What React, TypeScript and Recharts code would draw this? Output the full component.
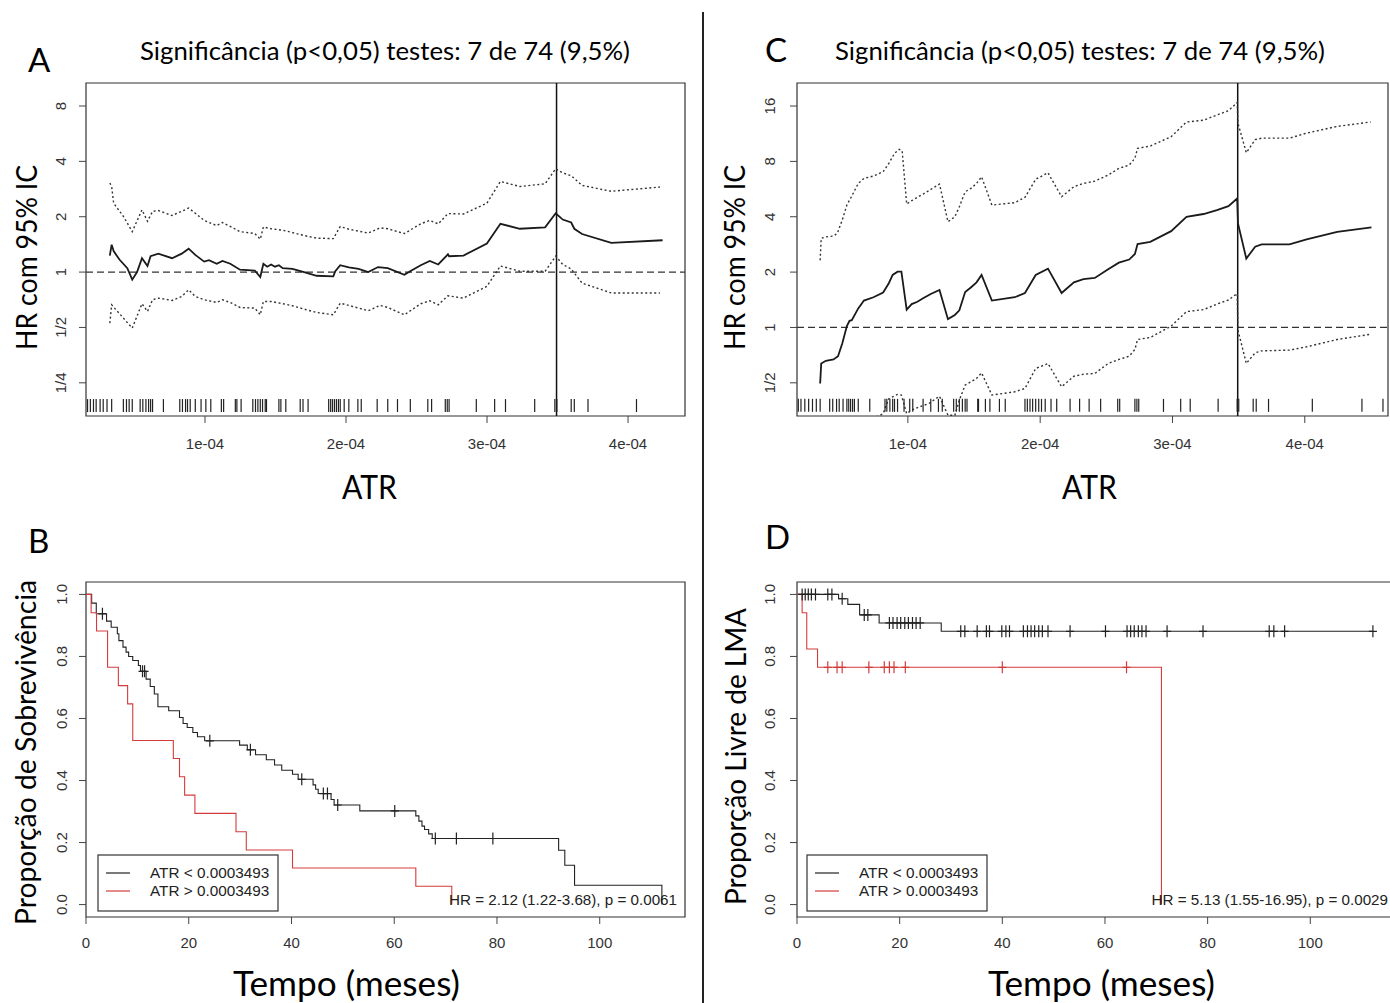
import React from "react";
import {
  ComposedChart,
  Line,
  Scatter,
  XAxis,
  YAxis,
  ReferenceLine,
  ReferenceArea
} from "recharts";

const TICK_FONT = "'Liberation Sans', Arial, Helvetica, sans-serif";
const LABEL_FONT = "Lato, 'Open Sans', sans-serif";

const THRESHOLD = 3.493e-4;

// ---------- A: HR by ATR cut-off (overall survival)
const estA_atr = [0.325e-4, 0.338e-4, 0.352e-4, 0.393e-4, 0.449e-4, 0.484e-4, 0.518e-4, 0.553e-4, 0.592e-4, 0.614e-4, 0.669e-4, 0.766e-4, 0.835e-4, 0.884e-4, 0.931e-4, 0.994e-4, 1.028e-4, 1.083e-4, 1.124e-4, 1.179e-4, 1.248e-4, 1.353e-4, 1.392e-4, 1.414e-4, 1.441e-4, 1.469e-4, 1.496e-4, 1.524e-4, 1.551e-4, 1.62e-4, 1.703e-4, 1.791e-4, 1.91e-4, 1.924e-4, 1.959e-4, 2.02e-4, 2.089e-4, 2.158e-4, 2.227e-4, 2.296e-4, 2.414e-4, 2.461e-4, 2.53e-4, 2.594e-4, 2.654e-4, 2.723e-4, 2.731e-4, 2.833e-4, 2.999e-4, 3.095e-4, 3.233e-4, 3.412e-4, 3.487e-4, 3.537e-4, 3.597e-4, 3.619e-4, 3.674e-4, 3.881e-4, 4.245e-4];
const estA_hr = [1.23, 1.41, 1.3, 1.17, 1.05, 0.91, 1.0, 1.19, 1.08, 1.22, 1.26, 1.19, 1.26, 1.34, 1.24, 1.14, 1.16, 1.11, 1.15, 1.11, 1.03, 1.02, 0.94, 1.11, 1.07, 1.1, 1.07, 1.09, 1.05, 1.04, 1.0, 0.955, 0.947, 1.01, 1.09, 1.06, 1.04, 1.0, 1.065, 1.05, 0.967, 1.017, 1.09, 1.15, 1.1, 1.25, 1.22, 1.23, 1.43, 1.83, 1.72, 1.75, 2.09, 1.93, 1.86, 1.72, 1.61, 1.44, 1.49];

const upA_atr = [0.325e-4, 0.338e-4, 0.352e-4, 0.421e-4, 0.484e-4, 0.553e-4, 0.592e-4, 0.628e-4, 0.669e-4, 0.766e-4, 0.835e-4, 0.884e-4, 0.931e-4, 0.994e-4, 1.083e-4, 1.124e-4, 1.179e-4, 1.248e-4, 1.353e-4, 1.392e-4, 1.414e-4, 1.469e-4, 1.551e-4, 1.62e-4, 1.703e-4, 1.791e-4, 1.91e-4, 1.959e-4, 2.02e-4, 2.158e-4, 2.241e-4, 2.296e-4, 2.414e-4, 2.53e-4, 2.594e-4, 2.654e-4, 2.723e-4, 2.833e-4, 2.999e-4, 3.095e-4, 3.233e-4, 3.412e-4, 3.487e-4, 3.537e-4, 3.597e-4, 3.674e-4, 3.881e-4, 4.226e-4];
const upA_hr = [3.05, 2.92, 2.37, 2.01, 1.66, 2.18, 1.89, 2.14, 2.16, 2.03, 2.14, 2.23, 2.09, 1.91, 1.79, 1.86, 1.77, 1.66, 1.62, 1.51, 1.76, 1.72, 1.69, 1.64, 1.58, 1.53, 1.52, 1.77, 1.71, 1.63, 1.74, 1.72, 1.62, 1.83, 1.91, 1.83, 2.08, 2.07, 2.37, 3.11, 2.92, 3.02, 3.65, 3.46, 3.34, 2.96, 2.75, 2.9];

const loA_atr = [0.325e-4, 0.338e-4, 0.484e-4, 0.553e-4, 0.592e-4, 0.628e-4, 0.669e-4, 0.766e-4, 0.835e-4, 0.884e-4, 0.931e-4, 0.994e-4, 1.083e-4, 1.124e-4, 1.179e-4, 1.248e-4, 1.353e-4, 1.392e-4, 1.414e-4, 1.469e-4, 1.551e-4, 1.62e-4, 1.703e-4, 1.791e-4, 1.91e-4, 1.959e-4, 2.02e-4, 2.158e-4, 2.241e-4, 2.296e-4, 2.414e-4, 2.53e-4, 2.594e-4, 2.654e-4, 2.723e-4, 2.833e-4, 2.999e-4, 3.095e-4, 3.233e-4, 3.412e-4, 3.487e-4, 3.537e-4, 3.597e-4, 3.674e-4, 3.881e-4, 4.226e-4];
const loA_hr = [0.528, 0.664, 0.496, 0.673, 0.611, 0.707, 0.722, 0.701, 0.737, 0.801, 0.737, 0.707, 0.684, 0.707, 0.684, 0.642, 0.637, 0.586, 0.692, 0.692, 0.673, 0.656, 0.629, 0.603, 0.586, 0.678, 0.659, 0.616, 0.659, 0.642, 0.586, 0.673, 0.698, 0.664, 0.743, 0.722, 0.836, 1.08, 1.01, 1.01, 1.22, 1.1, 1.04, 0.871, 0.77, 0.77];

const rugA = [0.167e-4, 0.187e-4, 0.209e-4, 0.228e-4, 0.256e-4, 0.278e-4, 0.305e-4, 0.338e-4, 0.421e-4, 0.443e-4, 0.462e-4, 0.484e-4, 0.54e-4, 0.559e-4, 0.581e-4, 0.6e-4, 0.614e-4, 0.628e-4, 0.705e-4, 0.821e-4, 0.84e-4, 0.862e-4, 0.876e-4, 0.895e-4, 0.931e-4, 0.972e-4, 1.006e-4, 1.041e-4, 1.116e-4, 1.132e-4, 1.215e-4, 1.226e-4, 1.256e-4, 1.339e-4, 1.358e-4, 1.375e-4, 1.392e-4, 1.408e-4, 1.427e-4, 1.436e-4, 1.524e-4, 1.538e-4, 1.573e-4, 1.675e-4, 1.695e-4, 1.731e-4, 1.877e-4, 1.891e-4, 1.904e-4, 1.918e-4, 1.932e-4, 1.946e-4, 1.959e-4, 1.987e-4, 2.02e-4, 2.084e-4, 2.108e-4, 2.221e-4, 2.296e-4, 2.365e-4, 2.456e-4, 2.58e-4, 2.607e-4, 2.704e-4, 2.718e-4, 2.731e-4, 2.924e-4, 3.054e-4, 3.131e-4, 3.338e-4, 3.481e-4, 3.495e-4, 3.597e-4, 3.619e-4, 3.716e-4, 4.06e-4];

// ---------- C: HR by ATR cut-off (LMA-free)
const estC_atr = [0.337e-4, 0.345e-4, 0.38e-4, 0.438e-4, 0.472e-4, 0.504e-4, 0.539e-4, 0.559e-4, 0.576e-4, 0.625e-4, 0.668e-4, 0.74e-4, 0.813e-4, 0.856e-4, 0.885e-4, 0.922e-4, 0.951e-4, 0.991e-4, 1.029e-4, 1.072e-4, 1.115e-4, 1.173e-4, 1.239e-4, 1.303e-4, 1.355e-4, 1.389e-4, 1.433e-4, 1.476e-4, 1.519e-4, 1.557e-4, 1.635e-4, 1.808e-4, 1.885e-4, 1.966e-4, 2.059e-4, 2.162e-4, 2.255e-4, 2.327e-4, 2.413e-4, 2.514e-4, 2.595e-4, 2.673e-4, 2.716e-4, 2.736e-4, 2.832e-4, 2.99e-4, 3.106e-4, 3.235e-4, 3.336e-4, 3.423e-4, 3.489e-4, 3.495e-4, 3.558e-4, 3.625e-4, 3.674e-4, 3.884e-4, 4.014e-4, 4.245e-4, 4.504e-4];
const estC_hr = [0.496, 0.637, 0.659, 0.67, 0.698, 0.818, 1.017, 1.087, 1.096, 1.27, 1.4, 1.46, 1.55, 1.74, 1.93, 2.01, 2.01, 1.25, 1.34, 1.38, 1.44, 1.52, 1.6, 1.11, 1.17, 1.24, 1.56, 1.65, 1.76, 1.93, 1.4, 1.46, 1.54, 1.93, 2.09, 1.54, 1.76, 1.83, 1.86, 2.07, 2.25, 2.34, 2.51, 2.84, 2.92, 3.34, 4.0, 4.14, 4.35, 4.57, 5.03, 3.68, 2.37, 2.75, 2.83, 2.83, 3.01, 3.31, 3.5];

const upC_atr = [0.337e-4, 0.345e-4, 0.38e-4, 0.438e-4, 0.467e-4, 0.504e-4, 0.539e-4, 0.576e-4, 0.625e-4, 0.668e-4, 0.74e-4, 0.813e-4, 0.856e-4, 0.899e-4, 0.934e-4, 0.957e-4, 0.991e-4, 1.029e-4, 1.115e-4, 1.173e-4, 1.239e-4, 1.303e-4, 1.355e-4, 1.389e-4, 1.433e-4, 1.476e-4, 1.519e-4, 1.557e-4, 1.635e-4, 1.808e-4, 1.885e-4, 1.966e-4, 2.059e-4, 2.162e-4, 2.255e-4, 2.327e-4, 2.413e-4, 2.514e-4, 2.595e-4, 2.673e-4, 2.716e-4, 2.736e-4, 2.832e-4, 2.99e-4, 3.106e-4, 3.235e-4, 3.336e-4, 3.423e-4, 3.489e-4, 3.495e-4, 3.558e-4, 3.625e-4, 3.674e-4, 3.884e-4, 4.014e-4, 4.245e-4, 4.498e-4];
const upC_hr = [2.32, 3.05, 3.11, 3.14, 3.25, 3.84, 4.63, 5.18, 6.07, 6.47, 6.66, 7.03, 7.8, 8.84, 9.3, 9.14, 4.69, 4.89, 5.31, 5.63, 6.02, 3.76, 4.0, 4.53, 5.47, 5.7, 6.07, 6.6, 4.63, 4.77, 5.1, 6.39, 6.94, 5.14, 5.83, 6.07, 6.25, 6.74, 7.33, 7.64, 8.31, 9.42, 9.69, 10.9, 13.1, 13.4, 14.3, 15.1, 16.7, 12.9, 8.92, 10.5, 10.7, 10.7, 11.4, 12.4, 13.1];

const loC_atr = [0.337e-4, 0.345e-4, 0.438e-4, 0.504e-4, 0.576e-4, 0.668e-4, 0.813e-4, 0.856e-4, 0.922e-4, 0.951e-4, 0.991e-4, 1.029e-4, 1.087e-4, 1.159e-4, 1.239e-4, 1.303e-4, 1.355e-4, 1.389e-4, 1.433e-4, 1.476e-4, 1.519e-4, 1.557e-4, 1.635e-4, 1.808e-4, 1.885e-4, 1.966e-4, 2.059e-4, 2.162e-4, 2.255e-4, 2.327e-4, 2.413e-4, 2.514e-4, 2.595e-4, 2.673e-4, 2.716e-4, 2.736e-4, 2.832e-4, 2.99e-4, 3.106e-4, 3.235e-4, 3.336e-4, 3.423e-4, 3.489e-4, 3.495e-4, 3.558e-4, 3.625e-4, 3.674e-4, 3.884e-4, 4.014e-4, 4.245e-4, 4.504e-4];
const loC_hr = [0.106, 0.133, 0.143, 0.175, 0.233, 0.3, 0.34, 0.41, 0.432, 0.429, 0.34, 0.355, 0.37, 0.386, 0.423, 0.333, 0.333, 0.402, 0.486, 0.506, 0.528, 0.566, 0.429, 0.447, 0.466, 0.598, 0.637, 0.476, 0.543, 0.557, 0.562, 0.637, 0.67, 0.698, 0.759, 0.86, 0.882, 1.017, 1.22, 1.25, 1.34, 1.41, 1.53, 0.967, 0.637, 0.728, 0.746, 0.753, 0.785, 0.86, 0.92];

const rugC = [0.172e-4, 0.192e-4, 0.221e-4, 0.25e-4, 0.279e-4, 0.308e-4, 0.337e-4, 0.409e-4, 0.432e-4, 0.461e-4, 0.481e-4, 0.51e-4, 0.539e-4, 0.553e-4, 0.567e-4, 0.582e-4, 0.596e-4, 0.625e-4, 0.712e-4, 0.827e-4, 0.841e-4, 0.864e-4, 0.885e-4, 0.899e-4, 0.922e-4, 0.971e-4, 1.014e-4, 1.037e-4, 1.115e-4, 1.173e-4, 1.231e-4, 1.26e-4, 1.346e-4, 1.366e-4, 1.389e-4, 1.412e-4, 1.433e-4, 1.447e-4, 1.528e-4, 1.534e-4, 1.586e-4, 1.62e-4, 1.692e-4, 1.736e-4, 1.885e-4, 1.903e-4, 1.923e-4, 1.943e-4, 1.966e-4, 1.989e-4, 2.01e-4, 2.038e-4, 2.082e-4, 2.125e-4, 2.226e-4, 2.298e-4, 2.37e-4, 2.457e-4, 2.586e-4, 2.601e-4, 2.716e-4, 2.731e-4, 2.745e-4, 2.932e-4, 3.062e-4, 3.134e-4, 3.345e-4, 3.489e-4, 3.501e-4, 3.61e-4, 3.633e-4, 3.726e-4, 4.057e-4, 4.432e-4, 4.591e-4];

// ---------- B: overall survival (months)
const osLow_t = [0, 1.1, 2.0, 4.0, 4.9, 6.1, 6.4, 7.2, 7.8, 8.3, 9.1, 10.2, 10.6, 11.7, 12.5, 13.3, 14.0, 16.1, 18.2, 18.9, 19.7, 20.8, 21.7, 23.1, 29.9, 31.4, 33.0, 35.1, 36.7, 38.1, 40.2, 41.3, 44.2, 44.7, 45.2, 47.7, 48.3, 53.3, 64.2, 64.8, 65.4, 65.9, 66.7, 67.4, 92.0, 93.2, 95.1, 112.1];
const osLow_s = [1, 0.972, 0.9375, 0.914, 0.894, 0.873, 0.851, 0.83, 0.814, 0.8, 0.787, 0.771, 0.752, 0.727, 0.703, 0.679, 0.638, 0.625, 0.603, 0.584, 0.571, 0.555, 0.541, 0.528, 0.514, 0.499, 0.483, 0.467, 0.45, 0.433, 0.42, 0.404, 0.386, 0.372, 0.358, 0.339, 0.321, 0.302, 0.286, 0.269, 0.253, 0.242, 0.228, 0.213, 0.175, 0.127, 0.0625, 0];
const osLow_cens = [3.2, 11.0, 11.4, 24.1, 32.0, 42.0, 46.2, 47.0, 49.0, 60.1, 68.0, 72.1, 79.2];

const osHigh_t = [0, 1.0, 2.05, 4.2, 6.3, 8.1, 9.1, 17.0, 18.2, 19.2, 21.2, 29.2, 31.2, 40.2, 64.2, 71.2];
const osHigh_s = [1, 0.941, 0.882, 0.765, 0.706, 0.647, 0.529, 0.471, 0.412, 0.353, 0.294, 0.235, 0.176, 0.118, 0.059, 0];
const osHigh_cens: number[] = [];

// ---------- D: LMA-free proportion (months)
const lmaLow_t = [0, 8.1, 9.9, 12.2, 16.0, 28.1, 112.2];
const lmaLow_s = [1, 0.986, 0.968, 0.934, 0.908, 0.881, 0.881];
const lmaLow_cens = [1.0, 1.6, 2.2, 2.8, 3.6, 6.0, 6.8, 8.8, 13.1, 13.8, 18.0, 18.7, 19.5, 20.2, 21.0, 21.7, 22.5, 23.2, 24.0, 31.9, 32.7, 35.1, 36.9, 37.5, 39.9, 40.7, 41.4, 44.1, 44.9, 45.6, 46.3, 47.1, 47.8, 48.9, 53.2, 60.1, 64.3, 65.0, 65.7, 66.5, 67.2, 68.0, 72.1, 79.1, 92.0, 92.9, 95.0, 112.2];

const lmaHigh_t = [0, 1.0, 1.9, 4.0, 71.0];
const lmaHigh_s = [1, 0.941, 0.824, 0.765, 0];
const lmaHigh_cens = [6.0, 7.8, 8.8, 14.0, 17.0, 18.0, 18.9, 21.1, 40.0, 64.2];

const hrTicksA = [0.25, 0.5, 1, 2, 4, 8];
const hrTicksC = [0.5, 1, 2, 4, 8, 16];
const atrTicks = [1e-4, 2e-4, 3e-4, 4e-4];
const survTicks = [0, 0.2, 0.4, 0.6, 0.8, 1];
const monthTicks = [0, 20, 40, 60, 80, 100];

const legendLabels = ["ATR < 0.0003493", "ATR > 0.0003493"];

const zip = (xs: number[], ys: number[]) => xs.map((x, i) => ({ x, y: ys[i] }));

// survival level at a censoring time
const survAt = (ts: number[], ss: number[], t: number) => {
  let s = ss[0];
  for (let i = 0; i < ts.length; i++) if (ts[i] <= t) s = ss[i];
  return s;
};

const fracLabel = (v: number) => (v === 0.25 ? "1/4" : v === 0.5 ? "1/2" : String(v));
const sciLabel = (v: number) => `${Math.round(v * 1e4)}e-04`;
const decLabel = (v: number) => v.toFixed(1);

const RugMark = (p: any) => (
  <line x1={p.cx} x2={p.cx} y1={p.cy - 6.5} y2={p.cy + 6.5} stroke="#222" strokeWidth={1.2} />
);

const censorShape = (color: string) => (p: any) => (
  <path
    d={`M${p.cx - 4},${p.cy}H${p.cx + 4}M${p.cx},${p.cy - 6}V${p.cy + 6}`}
    stroke={color}
    strokeWidth={1.2}
    fill="none"
  />
);

const xTick = (fmt: (v: number) => string, dy: number) => (p: any) => (
  <text x={p.x} y={p.y + dy} textAnchor="middle" fontFamily={TICK_FONT} fontSize={15} fill="#333">
    {fmt(p.payload.value)}
  </text>
);

const yTick = (fmt: (v: number) => string, dx: number) => (p: any) => (
  <text
    transform={`translate(${p.x - dx},${p.y}) rotate(-90)`}
    textAnchor="middle"
    fontFamily={TICK_FONT}
    fontSize={15}
    fill="#333"
  >
    {fmt(p.payload.value)}
  </text>
);

interface HRProps {
  left: number;
  width: number;
  yAxisWidth: number;
  right: number;
  xDomain: [number, number];
  yDomain: [number, number];
  yTicks: number[];
  est: { x: number; y: number }[];
  up: { x: number; y: number }[];
  lo: { x: number; y: number }[];
  rug: number[];
  rugLevel: number;
  yDx: number;
}

function HRPanel(p: HRProps) {
  const rugData = p.rug.map((x) => ({ x, y: p.rugLevel }));
  return (
    <div style={{ position: "absolute", left: p.left, top: 0 }}>
      <ComposedChart width={p.width} height={460} margin={{ top: 83, right: p.right, bottom: 0, left: 0 }}>
        <XAxis
          type="number"
          dataKey="x"
          domain={p.xDomain}
          allowDataOverflow
          ticks={atrTicks}
          axisLine={false}
          tickSize={7}
          tickMargin={0}
          tickLine={{ stroke: "#444" }}
          tick={xTick(sciLabel, 26)}
          height={44}
        />
        <YAxis
          type="number"
          dataKey="y"
          scale="log"
          domain={p.yDomain}
          allowDataOverflow
          ticks={p.yTicks}
          axisLine={false}
          tickSize={7}
          tickMargin={0}
          tickLine={{ stroke: "#444" }}
          tick={yTick(fracLabel, p.yDx)}
          width={p.yAxisWidth}
        />
        <ReferenceArea
          x1={p.xDomain[0]}
          x2={p.xDomain[1]}
          y1={p.yDomain[0]}
          y2={p.yDomain[1]}
          fill="none"
          stroke="#333"
          strokeWidth={1.2}
          ifOverflow="visible"
        />
        <ReferenceLine y={1} stroke="#333" strokeWidth={1.3} strokeDasharray="7 4" />
        <ReferenceLine x={THRESHOLD} stroke="#111" strokeWidth={1.5} />
        <Line data={p.up} dataKey="y" type="linear" stroke="#333" strokeWidth={1.4} strokeDasharray="2 2.5" dot={false} activeDot={false} isAnimationActive={false} />
        <Line data={p.lo} dataKey="y" type="linear" stroke="#333" strokeWidth={1.4} strokeDasharray="2 2.5" dot={false} activeDot={false} isAnimationActive={false} />
        <Line data={p.est} dataKey="y" type="linear" stroke="#1a1a1a" strokeWidth={1.8} dot={false} activeDot={false} isAnimationActive={false} />
        <Scatter data={rugData} dataKey="y" shape={RugMark} isAnimationActive={false} />
      </ComposedChart>
    </div>
  );
}

interface KMProps {
  left: number;
  width: number;
  yAxisWidth: number;
  right: number;
  xDomain: [number, number];
  lowT: number[];
  lowS: number[];
  lowC: number[];
  highT: number[];
  highS: number[];
  highC: number[];
  yDx: number;
}

const RED = "#d43c3c";
const DARK = "#222";

function KMPanel(p: KMProps) {
  const yDomain: [number, number] = [-0.04, 1.04];
  const lowCens = p.lowC.map((t) => ({ x: t, y: survAt(p.lowT, p.lowS, t) }));
  const highCens = p.highC.map((t) => ({ x: t, y: survAt(p.highT, p.highS, t) }));
  return (
    <div style={{ position: "absolute", left: p.left, top: 500 }}>
      <ComposedChart width={p.width} height={460} margin={{ top: 82, right: p.right, bottom: 0, left: 0 }}>
        <XAxis
          type="number"
          dataKey="x"
          domain={p.xDomain}
          allowDataOverflow
          ticks={monthTicks}
          axisLine={false}
          tickSize={7}
          tickMargin={0}
          tickLine={{ stroke: "#444" }}
          tick={xTick(String, 24)}
          height={43}
        />
        <YAxis
          type="number"
          dataKey="y"
          domain={yDomain}
          allowDataOverflow
          ticks={survTicks}
          axisLine={false}
          tickSize={7}
          tickMargin={0}
          tickLine={{ stroke: "#444" }}
          tick={yTick(decLabel, p.yDx)}
          width={p.yAxisWidth}
        />
        <ReferenceArea
          x1={p.xDomain[0]}
          x2={p.xDomain[1]}
          y1={yDomain[0]}
          y2={yDomain[1]}
          fill="none"
          stroke="#333"
          strokeWidth={1.2}
          ifOverflow="visible"
        />
        <Line data={zip(p.lowT, p.lowS)} dataKey="y" type="stepAfter" stroke={DARK} strokeWidth={1.1} dot={false} activeDot={false} isAnimationActive={false} />
        <Line data={zip(p.highT, p.highS)} dataKey="y" type="stepAfter" stroke={RED} strokeWidth={1.1} dot={false} activeDot={false} isAnimationActive={false} />
        <Scatter data={lowCens} dataKey="y" shape={censorShape(DARK)} isAnimationActive={false} />
        <Scatter data={highCens} dataKey="y" shape={censorShape(RED)} isAnimationActive={false} />
      </ComposedChart>
    </div>
  );
}

function KMLegend({ x }: { x: number }) {
  return (
    <g>
      <rect x={x} y={855} width={180} height={56} fill="#fff" stroke="#333" strokeWidth={1.2} />
      <line x1={x + 8} x2={x + 32} y1={873} y2={873} stroke={DARK} strokeWidth={1.2} />
      <line x1={x + 8} x2={x + 32} y1={891} y2={891} stroke={RED} strokeWidth={1.2} />
      <text x={x + 52} y={878} fontFamily={TICK_FONT} fontSize={15.3} fill="#222">{legendLabels[0]}</text>
      <text x={x + 52} y={896} fontFamily={TICK_FONT} fontSize={15.3} fill="#222">{legendLabels[1]}</text>
    </g>
  );
}

const big = { fontFamily: LABEL_FONT, fill: "#000" } as const;

export default function App() {
  return (
    <div
      style={{
        position: "absolute",
        left: 0,
        top: 0,
        width: 1390,
        height: 1003,
        overflow: "hidden",
        background: "#fff"
      }}
    >
      <HRPanel
        left={0}
        width={700}
        yAxisWidth={86}
        right={15}
        xDomain={[0.156e-4, 4.404e-4]}
        yDomain={[0.165, 10.67]}
        yTicks={hrTicksA}
        est={zip(estA_atr, estA_hr)}
        up={zip(upA_atr, upA_hr)}
        lo={zip(loA_atr, loA_hr)}
        rug={rugA}
        rugLevel={0.188}
        yDx={13}
      />
      <HRPanel
        left={710}
        width={680}
        yAxisWidth={87}
        right={2}
        xDomain={[0.162e-4, 4.629e-4]}
        yDomain={[0.33, 21.35]}
        yTicks={hrTicksC}
        est={zip(estC_atr, estC_hr)}
        up={zip(upC_atr, upC_hr)}
        lo={zip(loC_atr, loC_hr)}
        rug={rugC}
        rugLevel={0.377}
        yDx={15}
      />
      <KMPanel
        left={0}
        width={700}
        yAxisWidth={86}
        right={15}
        xDomain={[0, 116.6]}
        lowT={osLow_t}
        lowS={osLow_s}
        lowC={osLow_cens}
        highT={osHigh_t}
        highS={osHigh_s}
        highC={osHigh_cens}
        yDx={12}
      />
      <KMPanel
        left={710}
        width={700}
        yAxisWidth={87}
        right={14}
        xDomain={[0, 116.7]}
        lowT={lmaLow_t}
        lowS={lmaLow_s}
        lowC={lmaLow_cens}
        highT={lmaHigh_t}
        highS={lmaHigh_s}
        highC={lmaHigh_cens}
        yDx={15}
      />
      <svg
        width={1390}
        height={1003}
        style={{ position: "absolute", left: 0, top: 0, pointerEvents: "none" }}
      >
        <line x1={703} x2={703} y1={12} y2={1003} stroke="#222" strokeWidth={2} />

        <text x={28} y={72} fontSize={33} {...big}>A</text>
        <text x={765} y={62} fontSize={33} {...big}>C</text>
        <text x={28} y={553} fontSize={33} {...big}>B</text>
        <text x={765} y={549} fontSize={33} {...big}>D</text>

        <text x={140} y={60} fontSize={25} textLength={490} lengthAdjust="spacingAndGlyphs" {...big}>
          Significância (p&lt;0,05) testes: 7 de 74 (9,5%)
        </text>
        <text x={835} y={60} fontSize={25} textLength={490} lengthAdjust="spacingAndGlyphs" {...big}>
          Significância (p&lt;0,05) testes: 7 de 74 (9,5%)
        </text>

        <text x={342} y={499} fontSize={33} textLength={55} lengthAdjust="spacingAndGlyphs" {...big}>ATR</text>
        <text x={1062} y={499} fontSize={33} textLength={55} lengthAdjust="spacingAndGlyphs" {...big}>ATR</text>

        <text x={233} y={996} fontSize={34} textLength={227} lengthAdjust="spacingAndGlyphs" {...big}>Tempo (meses)</text>
        <text x={988} y={996} fontSize={34} textLength={227} lengthAdjust="spacingAndGlyphs" {...big}>Tempo (meses)</text>

        <text transform="translate(37,350) rotate(-90)" fontSize={28} textLength={185} lengthAdjust="spacingAndGlyphs" {...big}>HR com 95% IC</text>
        <text transform="translate(745,350) rotate(-90)" fontSize={28} textLength={185} lengthAdjust="spacingAndGlyphs" {...big}>HR com 95% IC</text>

        <text transform="translate(36,925) rotate(-90)" fontSize={28} textLength={345} lengthAdjust="spacingAndGlyphs" {...big}>Proporção de Sobrevivência</text>
        <text transform="translate(746,905) rotate(-90)" fontSize={28} textLength={297} lengthAdjust="spacingAndGlyphs" {...big}>Proporção Livre de LMA</text>

        <KMLegend x={98} />
        <KMLegend x={807} />

        <text x={677} y={905} textAnchor="end" fontFamily={TICK_FONT} fontSize={15.2} fill="#222">
          HR = 2.12 (1.22-3.68), p = 0.0061
        </text>
        <text x={1388} y={905} textAnchor="end" fontFamily={TICK_FONT} fontSize={15.2} fill="#222">
          HR = 5.13 (1.55-16.95), p = 0.0029
        </text>
      </svg>
    </div>
  );
}
